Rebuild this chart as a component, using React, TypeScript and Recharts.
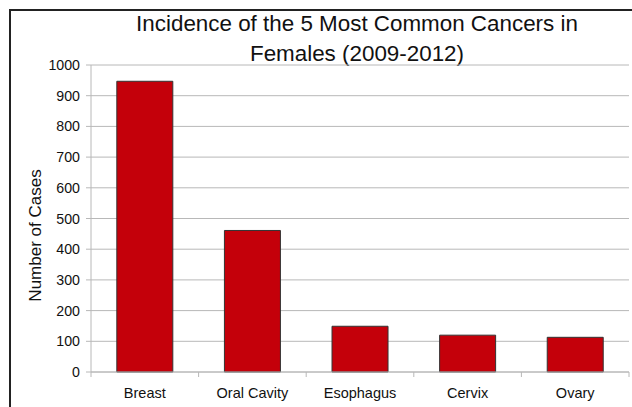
import { BarChart, Bar, XAxis, YAxis, CartesianGrid } from "recharts";

const cancerSites = ["Breast", "Oral Cavity", "Esophagus", "Cervix", "Ovary"];
const caseCounts = [947, 461, 149, 120, 113];
const yTicks = [0, 100, 200, 300, 400, 500, 600, 700, 800, 900, 1000];
const titleLines = ["Incidence of the 5 Most Common Cancers in", "Females (2009-2012)"];
const yLabel = "Number of Cases";

const FONT = "'Liberation Sans', Arial, sans-serif";
const GRID = "#b8b8b8";

const data = cancerSites.map((site, i) => ({ site, cases: caseCounts[i] }));

// category label plus the short marks at the category boundaries
const SiteTick = (props: any) => {
  const { x, y, payload, index } = props;
  const half = payload.offset ?? 0;
  const last = index === cancerSites.length - 1;
  return (
    <g>
      <line x1={x - half} x2={x - half} y1={y} y2={y + 5} stroke={GRID} />
      {last && <line x1={x + half} x2={x + half} y1={y} y2={y + 5} stroke={GRID} />}
      <text
        x={x}
        y={y + 16}
        dy="0.71em"
        textAnchor="middle"
        fontFamily={FONT}
        fontSize={14.5}
        fill="#111"
      >
        {payload.value}
      </text>
    </g>
  );
};

const App = () => {
  return (
    <div style={{ position: "fixed", left: 0, top: 0, width: 632, height: 407, background: "#fff", overflow: "hidden" }}>
      {/* frame around the chart */}
      <div
        style={{
          position: "absolute",
          left: 9,
          top: 9,
          width: 700,
          height: 500,
          borderTop: "2px solid #222",
          borderLeft: "2px solid #222",
        }}
      />
      <div
        style={{
          position: "absolute",
          left: 0,
          top: 9,
          width: 714,
          textAlign: "center",
          fontFamily: FONT,
          fontSize: 22.4,
          lineHeight: "29.5px",
          color: "#111",
        }}
      >
        {titleLines.map((line) => (
          <div key={line}>{line}</div>
        ))}
      </div>
      <BarChart
        width={632}
        height={407}
        data={data}
        margin={{ top: 65, right: 3, bottom: 5, left: 51 }}
        barCategoryGap="24%"
        style={{ position: "absolute", left: 0, top: 0 }}
      >
        <CartesianGrid vertical={false} stroke={GRID} xAxisId="site" yAxisId="v" />
        <XAxis
          xAxisId="site"
          dataKey="site"
          axisLine={{ stroke: GRID }}
          tickLine={false}
          tickSize={0}
          tickMargin={0}
          height={30}
          tick={<SiteTick />}
        />
        <YAxis
          yAxisId="v"
          domain={[0, 1000]}
          ticks={yTicks}
          width={40}
          axisLine={{ stroke: GRID }}
          tickLine={{ stroke: GRID }}
          tickSize={5}
          tickMargin={6}
          tick={{ fill: "#111", fontSize: 14.2, fontFamily: FONT }}
          label={{
            content: ({ viewBox }: any) => {
              const cx = viewBox.x - 16;
              const cy = viewBox.y + viewBox.height / 2 + 17;
              return (
                <text
                  x={cx}
                  y={cy}
                  transform={`rotate(-90 ${cx} ${cy})`}
                  textAnchor="middle"
                  dominantBaseline="central"
                  fontFamily={FONT}
                  fontSize={17}
                  fill="#111"
                >
                  {yLabel}
                </text>
              );
            },
          }}
        />
        <YAxis
          yAxisId="w"
          orientation="right"
          domain={[0, 1000]}
          width={0}
          tick={false}
          tickLine={false}
          axisLine={{ stroke: GRID }}
        />
        <Bar
          dataKey="cases"
          xAxisId="site"
          yAxisId="v"
          fill="#c4000a"
          stroke="#333"
          strokeWidth={1}
          isAnimationActive={false}
        />
      </BarChart>
    </div>
  );
};

export default App;
